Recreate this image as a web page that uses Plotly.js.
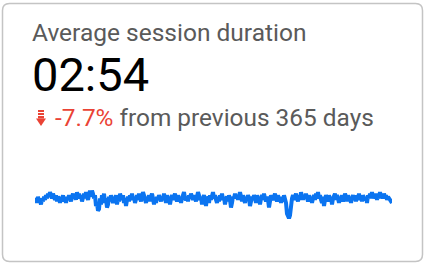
<!DOCTYPE html>
<html><head><meta charset="utf-8">
<script src="https://cdn.plot.ly/plotly-3.0.1.min.js"></script>
<style>html,body{margin:0;padding:0;background:#fff}#c{width:426px;height:264px}</style>
</head><body><div id="c"></div>
<script>
const metricTitle = "Average session duration";
const metricValue = "02:54";
const changeText = "-7.7%";
const changeSuffix = "from previous 365 days";
// daily deviation of session duration (sparkline)
const sparkValues = [
-1,1,-2,2,-1,0,-3,1,-1,2,0,3,1,4,2,5,3,1,4,2,
0,3,-1,2,1,-2,2,0,3,-1,1,-2,2,0,3,1,-1,2,4,1,
3,0,5,2,4,1,3,-1,2,4,1,5,2,0,3,6,2,6,4,1,
3,-4,-2,-7,-6,1,-3,3,0,4,-2,1,-5,-3,2,-1,3,1,-2,2,
0,3,-3,1,-1,4,2,0,3,-2,1,-4,0,2,-1,3,1,4,0,2,
-2,1,3,0,4,1,-1,2,5,3,1,-2,2,0,3,-1,2,4,1,-3,
1,-2,2,0,3,1,-1,2,0,4,1,-2,3,0,2,-3,1,3,0,2,
4,1,-1,3,0,2,-2,1,3,5,1,0,2,-1,3,1,4,2,0,3,
1,-1,2,5,3,0,2,-3,1,3,0,-4,2,1,-2,3,0,2,5,1,
3,0,-2,2,-1,3,1,4,0,2,-3,1,2,-1,3,0,-5,-2,2,1,
4,1,3,0,2,5,2,-1,3,1,-2,2,0,3,1,-4,-1,2,0,3,
1,-2,3,0,2,-3,1,3,0,4,1,-1,2,0,-5,-2,3,1,0,2,
4,1,-1,3,0,2,-2,1,-1,3,0,-2,-9,-12,-12,-10,-3,1,3,0,
2,4,1,-1,3,0,5,2,0,3,1,4,2,-1,3,0,2,-2,1,3,
0,4,2,5,1,3,0,-2,2,-4,0,3,1,-1,3,0,2,-3,1,2,
4,0,3,1,-2,2,0,3,-1,1,4,2,-1,3,0,2,-2,1,3,0,
2,-1,3,1,4,0,2,-1,3,1,0,2,-2,3,1,4,2,5,1,3,
2,4,0,3,1,5,2,3,1,4,2,3,0,2,1,0,-1,-2
];
const W=426,H=264;
const px=x=>x/W, py=y=>1-y/H;
const red="#ea4335", grey="#5a5a5a", blue="#0b74f0";
function rr(x0,y0,x1,y1,r){
  const X=px, Y=py;
  return `M${X(x0+r)},${Y(y0)} L${X(x1-r)},${Y(y0)} Q${X(x1)},${Y(y0)} ${X(x1)},${Y(y0+r)} L${X(x1)},${Y(y1-r)} Q${X(x1)},${Y(y1)} ${X(x1-r)},${Y(y1)} L${X(x0+r)},${Y(y1)} Q${X(x0)},${Y(y1)} ${X(x0)},${Y(y1-r)} L${X(x0)},${Y(y0+r)} Q${X(x0)},${Y(y0)} ${X(x0+r)},${Y(y0)} Z`;
}
const shapes=[
 {type:'path',xref:'paper',yref:'paper',path:rr(2.5,3.5,422.5,261.5,7),line:{color:'#c4c4c4',width:1.5},fillcolor:'rgba(0,0,0,0)'},
 {type:'rect',xref:'paper',yref:'paper',x0:px(38),x1:px(44),y0:py(110),y1:py(112),fillcolor:red,line:{width:0}},
 {type:'rect',xref:'paper',yref:'paper',x0:px(38),x1:px(44),y0:py(113),y1:py(115),fillcolor:red,line:{width:0}},
 {type:'rect',xref:'paper',yref:'paper',x0:px(38),x1:px(44),y0:py(116),y1:py(118.5),fillcolor:red,line:{width:0}},
 {type:'path',xref:'paper',yref:'paper',path:`M${px(36)},${py(118.5)} L${px(46)},${py(118.5)} L${px(41)},${py(126)} Z`,fillcolor:red,line:{width:0}}
];
const ann=(text,x,yTop,size,color)=>({text,xref:'paper',yref:'paper',x:px(x),y:py(yTop),xanchor:'left',yanchor:'top',showarrow:false,font:{family:'Roboto',size,color},borderpad:0});
const annotations=[
 ann(metricTitle,31,16.5,24.5,grey),
 ann(metricValue,31,46,47,'#000'),
 ann(`<span style="color:${red}">${changeText}</span> ${changeSuffix}`,54,102,24.4,grey)
];
const trace={y:sparkValues,type:'scatter',mode:'lines',line:{color:blue,width:4,shape:'linear'},hoverinfo:'skip'};
const layout={width:W,height:H,margin:{l:0,r:0,t:0,b:0},paper_bgcolor:'#fff',plot_bgcolor:'rgba(0,0,0,0)',showlegend:false,
 xaxis:{domain:[px(35),px(392)],range:[0,sparkValues.length-1],visible:false,fixedrange:true},
 yaxis:{domain:[1-226/H,1-186/H],range:[-17,9],visible:false,fixedrange:true},
 shapes,annotations};
Plotly.newPlot('c',[trace],layout,{displayModeBar:false,staticPlot:true});
</script></body></html>
